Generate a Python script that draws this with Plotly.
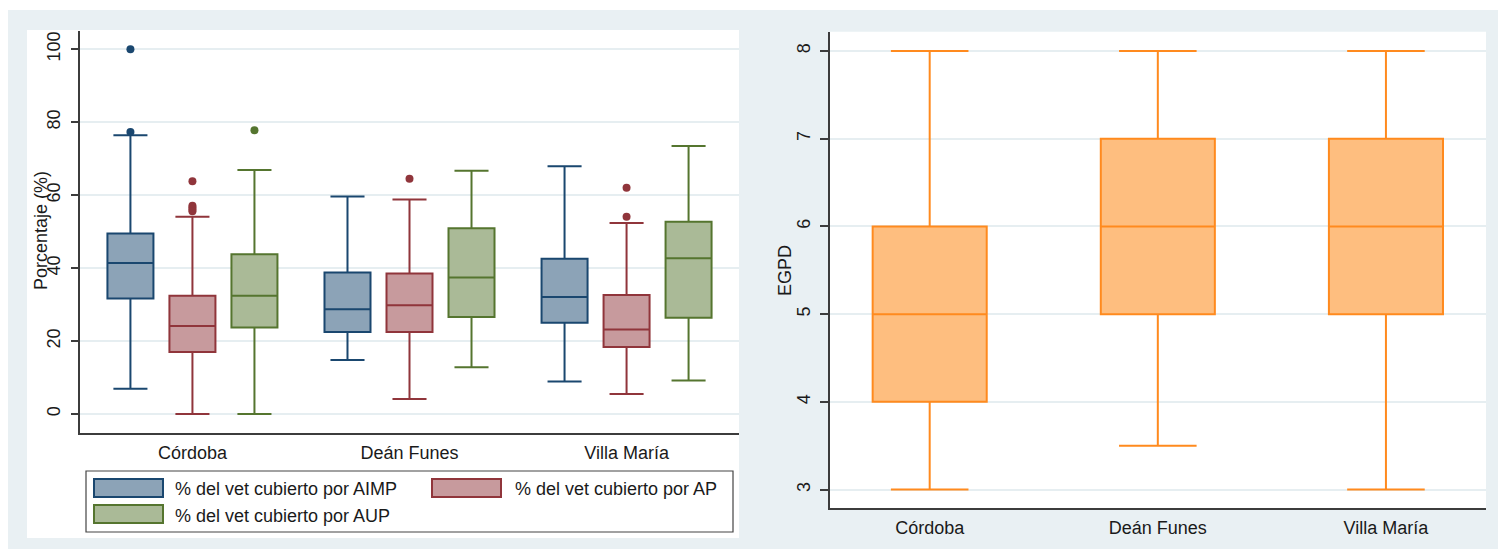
import plotly.graph_objects as go

W, H = 1498, 549

# ---------------- data ----------------
categories = ["Córdoba", "Deán Funes", "Villa María"]

series_names = ["% del vet cubierto por AIMP", "% del vet cubierto por AP", "% del vet cubierto por AUP"]

aimp_low = [6.9, 14.8, 8.9]
aimp_q1 = [31.7, 22.5, 25.0]
aimp_med = [41.4, 28.7, 32.1]
aimp_q3 = [49.5, 38.8, 42.6]
aimp_high = [76.4, 59.6, 67.9]
aimp_out_x = ["Córdoba", "Córdoba"]
aimp_out_y = [100.0, 77.3]

ap_low = [0.0, 4.1, 5.5]
ap_q1 = [17.0, 22.5, 18.4]
ap_med = [24.1, 29.8, 23.2]
ap_q3 = [32.4, 38.5, 32.6]
ap_high = [54.1, 58.8, 52.4]
ap_out_x = ["Córdoba", "Córdoba", "Córdoba", "Córdoba", "Córdoba", "Deán Funes", "Villa María", "Villa María"]
ap_out_y = [63.8, 57.1, 56.6, 56.1, 55.6, 64.5, 62.0, 54.1]

aup_low = [0.0, 12.8, 9.2]
aup_q1 = [23.7, 26.6, 26.4]
aup_med = [32.4, 37.4, 42.7]
aup_q3 = [43.8, 50.9, 52.7]
aup_high = [66.9, 66.7, 73.5]
aup_out_x = ["Córdoba"]
aup_out_y = [77.8]

egpd_low = [3.0, 3.5, 3.0]
egpd_q1 = [4.0, 5.0, 5.0]
egpd_med = [5.0, 6.0, 6.0]
egpd_q3 = [6.0, 7.0, 7.0]
egpd_high = [8.0, 8.0, 8.0]

left_ticks = [0, 20, 40, 60, 80, 100]
right_ticks = [3, 4, 5, 6, 7, 8]

# ---------------- style ----------------
FONT = "Liberation Sans, Arial, sans-serif"
TXT = "#1a1a1a"
BG = "#E9F0F3"
GRID = "#E6EEF1"
AXC = "#3c3c3c"
line_cols = ["#1A476F", "#90353B", "#55752F"]
fill_cols = ["#8CA3B7", "#C79A9D", "#AABA97"]
OR_LINE = "#FF8A1E"
OR_FILL = "#FEBE7F"


def px(x):
    return x / W


def py(y):
    return 1 - y / H


fig = go.Figure()

stats = [
    (aimp_low, aimp_q1, aimp_med, aimp_q3, aimp_high, aimp_out_x, aimp_out_y),
    (ap_low, ap_q1, ap_med, ap_q3, ap_high, ap_out_x, ap_out_y),
    (aup_low, aup_q1, aup_med, aup_q3, aup_high, aup_out_x, aup_out_y),
]

for i, (lo, q1, md, q3, hi, ox, oy) in enumerate(stats):
    fig.add_trace(go.Box(
        x=categories, q1=q1, median=md, q3=q3, lowerfence=lo, upperfence=hi,
        name=series_names[i], offsetgroup=f"s{i}", alignmentgroup="L",
        fillcolor=fill_cols[i], line=dict(color=line_cols[i], width=2),
        whiskerwidth=0.74, boxpoints=False, showlegend=False,
        xaxis="x", yaxis="y",
    ))

for i, (lo, q1, md, q3, hi, ox, oy) in enumerate(stats):
    fig.add_trace(go.Scatter(
        x=ox, y=oy, mode="markers", orientation="v",
        offsetgroup=f"s{i}", alignmentgroup="L",
        marker=dict(color=line_cols[i], size=8, symbol="circle"),
        showlegend=False, xaxis="x", yaxis="y",
    ))

fig.add_trace(go.Box(
    x=categories, q1=egpd_q1, median=egpd_med, q3=egpd_q3,
    lowerfence=egpd_low, upperfence=egpd_high, width=0.5,
    fillcolor=OR_FILL, line=dict(color=OR_LINE, width=2),
    whiskerwidth=0.68, boxpoints=False, showlegend=False,
    xaxis="x2", yaxis="y2", name="EGPD",
))

axis_common = dict(
    showline=True, linecolor=AXC, linewidth=1.5, mirror=False, zeroline=False,
    tickfont=dict(family=FONT, size=18, color=TXT),
)

fig.update_layout(
    width=W, height=H,
    margin=dict(l=0, r=0, t=0, b=0),
    paper_bgcolor="white", plot_bgcolor="white",
    boxmode="group", boxgap=0.143, boxgroupgap=0.258,
    scattermode="group", scattergap=0.143,
    showlegend=False,
    xaxis=dict(
        domain=[px(80), px(739)], anchor="y", type="category",
        categoryorder="array", categoryarray=categories,
        range=[-0.518, 2.518], showgrid=False, ticks="",
        ticklabelstandoff=3, **axis_common,
    ),
    yaxis=dict(
        domain=[py(433), py(31)], anchor="x", range=[-5.2, 105],
        tickvals=left_ticks, ticks="outside", ticklen=7, tickwidth=1.5,
        tickcolor=AXC, tickangle=-90, showgrid=True, gridcolor=GRID,
        gridwidth=1.5, ticklabelstandoff=4, **axis_common,
    ),
    xaxis2=dict(
        domain=[px(830), px(1486)], anchor="y2", type="category",
        categoryorder="array", categoryarray=categories,
        range=[-0.437, 2.4386], showgrid=False, ticks="",
        ticklabelstandoff=3, **axis_common,
    ),
    yaxis2=dict(
        domain=[py(508), py(31.7)], anchor="x2", range=[2.79, 8.22],
        tickvals=right_ticks, ticks="outside", ticklen=8, tickwidth=1.5,
        tickcolor=AXC, tickangle=-90, showgrid=True, gridcolor=GRID,
        gridwidth=1.5, ticklabelstandoff=3, **axis_common,
    ),
)

shapes = [
    dict(type="rect", xref="paper", yref="paper", x0=px(8), x1=1.0, y0=0.0, y1=py(10),
         fillcolor=BG, line=dict(width=0), layer="below"),
    dict(type="rect", xref="paper", yref="paper", x0=px(27), x1=px(739), y0=py(538), y1=py(30),
         fillcolor="white", line=dict(width=0), layer="below"),
    dict(type="rect", xref="paper", yref="paper", x0=px(830), x1=px(1486), y0=py(508), y1=py(31.7),
         fillcolor="white", line=dict(width=0), layer="below"),
    # legend frame
    dict(type="rect", xref="paper", yref="paper", x0=px(86), x1=px(733), y0=py(532), y1=py(471),
         fillcolor="white", line=dict(color="#444444", width=1.2), layer="above"),
]

legend_pos = [(94, 479, 173, 489), (432, 479, 513, 489), (94, 505, 173, 515.5)]
annotations = []
for i, (sx, sy, tx, ty) in enumerate(legend_pos):
    shapes.append(dict(type="rect", xref="paper", yref="paper", x0=px(sx), x1=px(sx + 69),
                       y0=py(sy + 18), y1=py(sy), fillcolor=fill_cols[i],
                       line=dict(color=line_cols[i], width=2), layer="above"))
    annotations.append(dict(xref="paper", yref="paper", x=px(tx), y=py(ty), text=series_names[i],
                            showarrow=False, xanchor="left", yanchor="middle",
                            font=dict(family=FONT, size=18, color=TXT)))

annotations.append(dict(xref="paper", yref="paper", x=px(41), y=py(231), text="Porcentaje (%)",
                        textangle=-90, showarrow=False, xanchor="center", yanchor="middle",
                        font=dict(family=FONT, size=18, color=TXT)))
annotations.append(dict(xref="paper", yref="paper", x=px(785), y=py(270), text="EGPD",
                        textangle=-90, showarrow=False, xanchor="center", yanchor="middle",
                        font=dict(family=FONT, size=18, color=TXT)))

fig.update_layout(shapes=shapes, annotations=annotations)

fig.write_html(
    "out.html",
    config={"displayModeBar": False},
    post_script="document.body.style.margin='0';document.body.style.padding='0';",
)
